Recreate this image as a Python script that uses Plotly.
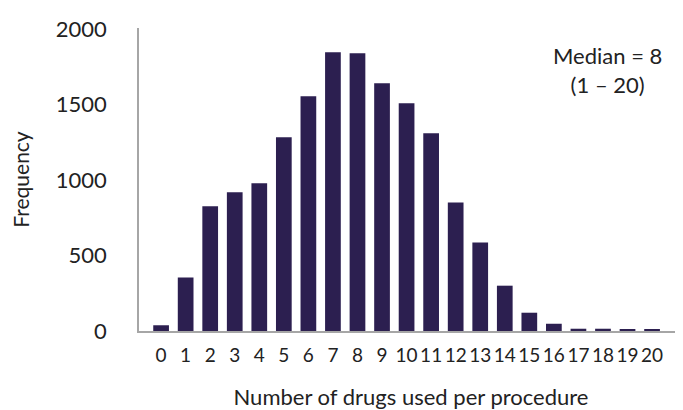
import plotly.graph_objects as go

drugs = list(range(0, 21))
frequency = [38, 355, 826, 918, 978, 1283, 1554, 1846, 1839, 1640, 1508, 1309,
             851, 586, 300, 121, 48, 15, 15, 8, 8]
tick_labels = [str(d) for d in drugs]
y_ticks = [0, 500, 1000, 1500, 2000]

FONT = "Lato"
TEXT = "#222222"
AXIS = "#a6a6a6"

fig = go.Figure(go.Bar(
    x=drugs, y=frequency,
    marker=dict(color="#2c1f50", line=dict(width=0)),
    width=0.64,
    hoverinfo="x+y",
))

# the page body has an 8px margin, so the figure is 8px smaller
fig.update_layout(
    width=675, height=402,
    margin=dict(l=131, r=0, t=20, b=79),
    paper_bgcolor="white", plot_bgcolor="white",
    font=dict(family=FONT, size=20, color=TEXT),
    showlegend=False,
    annotations=[dict(
        text="Median = 8<br>(1 – 20)",
        x=0.861, y=0.861, xref="paper", yref="paper",
        xanchor="center", yanchor="middle",
        showarrow=False, align="center",
        font=dict(family=FONT, size=22, color=TEXT),
    )],
)

fig.update_xaxes(
    range=[-0.9, 21.26],
    tickmode="array", tickvals=drugs, ticktext=tick_labels,
    tickangle=0,
    showgrid=False, zeroline=False,
    showline=True, linecolor=AXIS, linewidth=1.5,
    ticks="", ticklabelstandoff=6,
    tickfont=dict(size=19),
    title=dict(text="Number of drugs used per procedure", standoff=26,
               font=dict(size=22)),
    automargin=False,
)
fig.update_yaxes(
    range=[0, 2006],
    tickmode="array", tickvals=y_ticks,
    showgrid=False, zeroline=False,
    showline=True, linecolor=AXIS, linewidth=1.5,
    ticks="", ticklabelstandoff=26,
    tickfont=dict(size=22),
    title=dict(text="Frequency", standoff=21, font=dict(size=21)),
    automargin=False,
)

fig.write_html("out.html")
